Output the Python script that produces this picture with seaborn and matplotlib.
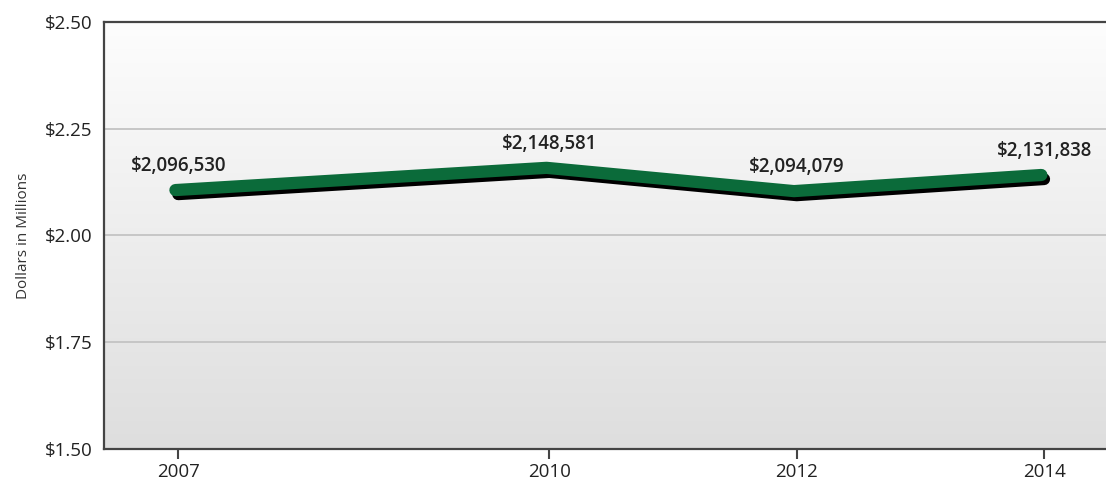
import numpy as np
import pandas as pd
import matplotlib
matplotlib.use("Agg")
import matplotlib.pyplot as plt
import matplotlib.patheffects as pe
import seaborn as sns

years = [2007, 2010, 2012, 2014]
values = [2096530, 2148581, 2094079, 2131838]
labels = ["$2,096,530", "$2,148,581", "$2,094,079", "$2,131,838"]
yticks = [1.50, 1.75, 2.00, 2.25, 2.50]
ytick_labels = ["$1.50", "$1.75", "$2.00", "$2.25", "$2.50"]

df = pd.DataFrame({"year": years, "value": [v / 1e6 for v in values]})

sns.set_style("white")
plt.rcParams["font.family"] = ["Open Sans", "DejaVu Sans"]

fig = plt.figure(figsize=(11.06, 4.87), dpi=100)
ax = fig.add_axes([0.094, 0.078, 0.906, 0.877])

# gradient background
grad = np.linspace(1, 0, 256).reshape(-1, 1)
ax.imshow(grad, extent=[0, 1, 0, 1], transform=ax.transAxes, aspect="auto",
          cmap=matplotlib.colors.LinearSegmentedColormap.from_list("g", ["#dedede", "#fdfdfd"]),
          zorder=0, interpolation="bicubic")

green = "#0b6b3a"
sns.lineplot(data=df, x="year", y="value", ax=ax, color="black", linewidth=8.6,
             solid_capstyle="round", solid_joinstyle="round", zorder=3,
             path_effects=[pe.Stroke(linewidth=8.6, foreground="black"),
                           pe.Stroke(offset=(-2.0, 3.0), linewidth=8.8, foreground=green)])

for x, v, lab in zip(years, df["value"], labels):
    ax.annotate(lab, (x, v), xytext=(0, 13), textcoords="offset points",
                ha="center", va="bottom", fontsize=13.5, fontweight="semibold",
                color="#222222", zorder=4)

ax.set_xlim(2006.4, 2014.5)
ax.set_ylim(1.5, 2.5)
ax.set_xticks(years)
ax.set_xticklabels([str(y) for y in years])
ax.set_yticks(yticks)
ax.set_yticklabels(ytick_labels)
for yv in [1.75, 2.00, 2.25]:
    ax.axhline(yv, color="#c6c6c6", linewidth=1.4, zorder=1)

ax.tick_params(axis="x", direction="out", length=7, width=1.5, color="#444444",
               labelsize=13.5, labelcolor="#222222", pad=3, bottom=True)
ax.tick_params(axis="y", length=0, labelsize=13.5, labelcolor="#222222", pad=8)

ax.set_xlabel("")
ax.set_ylabel("Dollars in Millions", fontsize=11, color="#333333", labelpad=10)

for s in ["top", "left", "bottom"]:
    ax.spines[s].set_visible(True)
    ax.spines[s].set_color("#444444")
    ax.spines[s].set_linewidth(1.6)
ax.spines["right"].set_visible(False)

fig.savefig("out.png", dpi=100)
